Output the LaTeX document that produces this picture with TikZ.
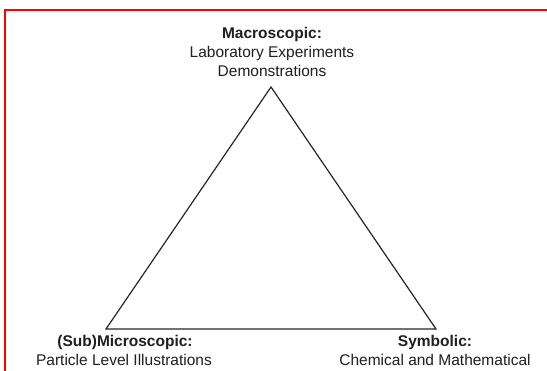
\documentclass[tikz,border=0pt]{standalone}
\usepackage{fontspec}
\setmainfont{Liberation Sans}
\begin{document}
\begin{tikzpicture}[x=1pt,y=-1pt,
  lbl/.style={anchor=base,inner sep=0pt,font=\fontsize{15.5}{19}\selectfont,text=black!88},
  hd/.style={lbl,font=\fontsize{15.5}{19}\selectfont\bfseries},
  edge/.style={draw=black!85,line width=1.2pt,line join=miter}]
\useasboundingbox (0,0) rectangle (547,371);
\clip (0,0) rectangle (547,371);
\fill[white] (0,0) rectangle (547,371);
\draw[red,line width=2.6pt] (5,10) rectangle (560,390);
\coordinate (top) at (271,87);
\coordinate (bl) at (106,329);
\coordinate (br) at (436,329);
\draw[edge] (top) -- (bl) -- (br) -- cycle;
\node[hd] (mac) at (272,39) {Macroscopic:};
\node[lbl] (lab) at (272,58) {Laboratory Experiments};
\node[lbl] (dem) at (272,77) {Demonstrations};
\node[hd] (sub) at (125,347) {(Sub)Microscopic:};
\node[lbl] (par) at (124,366) {Particle Level Illustrations};
\node[hd] (sym) at (435,347) {Symbolic:};
\node[lbl] (che) at (435,366) {Chemical and Mathematical};
\end{tikzpicture}
\end{document}
